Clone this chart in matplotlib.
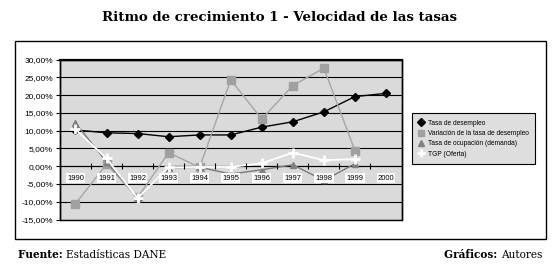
import numpy as np
import matplotlib
matplotlib.use('Agg')
import matplotlib.pyplot as plt
from matplotlib.lines import Line2D
from matplotlib.patches import Rectangle
from matplotlib.ticker import FuncFormatter

years = ['1990', '1991', '1992', '1993', '1994', '1995', '1996', '1997', '1998', '1999', '2000']
desempleo = [10.2, 9.4, 9.2, 8.3, 8.8, 8.8, 11.0, 12.5, 15.3, 19.6, 20.5]
variacion = [-10.6, 0.6, -8.8, 3.8, -0.3, 24.3, 13.3, 22.7, 27.6, 4.4, np.nan]
ocupacion = [12.2, 1.2, -8.9, -0.4, -0.3, -2.2, -1.0, 0.4, -4.0, 0.7, np.nan]
tgp = [10.4, 2.2, -9.0, -0.3, -0.2, -0.2, 0.8, 3.8, 1.7, 2.0, np.nan]
labels = ['Tasa de desempleo', 'Variación de la tasa de desempleo',
          'Tasa de ocupación (demanda)', 'TGP (Oferta)']

fig = plt.figure(figsize=(5.6, 2.71), dpi=100)
ax = fig.add_axes([0.107, 0.19, 0.610, 0.590])
ax.set_facecolor('#dadada')

x = np.arange(len(years))
styles = [
    dict(color='black', marker='D', markersize=4.5, lw=1.0, mfc='black', mec='black'),
    dict(color='#a6a6a6', marker='s', markersize=6, lw=1.0, mfc='#a0a0a0', mec='#a0a0a0'),
    dict(color='#7a7a7a', marker='^', markersize=5, lw=1.0, mfc='#808080', mec='#808080'),
    dict(color='white', marker='+', markersize=7, lw=1.3, mew=2.0, mec='white'),
]
for vals, st in zip([desempleo, variacion, ocupacion, tgp], styles):
    ax.plot(x, vals, zorder=3, **st)

ax.set_xlim(-0.5, len(years) - 0.5)
ax.set_ylim(-15, 30)
ax.set_yticks(np.arange(-15, 31, 5))
ax.yaxis.set_major_formatter(FuncFormatter(lambda v, p: ('%.2f%%' % v).replace('.', ',')))
ax.yaxis.grid(True, color='black', lw=0.8)
ax.yaxis.set_zorder(1)
ax.tick_params(axis='y', labelsize=6, length=3, width=0.8, pad=2)
for t in ax.get_yticklabels():
    t.set_family('Liberation Sans')

# category axis sits on the 0% line
ax.spines['bottom'].set_position(('data', 0))
ax.spines['bottom'].set_linewidth(0.8)
ax.xaxis.set_zorder(5)
ax.set_xticks(x)
ax.set_xticklabels(years, family='Liberation Sans', fontsize=5.5)
ax.set_xticks(x[:-1] + 0.5, minor=True)
ax.tick_params(axis='x', which='major', length=0, pad=6)
ax.tick_params(axis='x', which='minor', direction='inout', length=5, width=0.8)
for t in ax.get_xticklabels():
    t.set_bbox(dict(facecolor='white', edgecolor='none', pad=0.8))
for s in ['top', 'left', 'right']:
    ax.spines[s].set_linewidth(1.0)
ax.spines['top'].set_linewidth(1.6)
ax.add_patch(Rectangle((0, 0), 1, 1, transform=ax.transAxes, fill=False,
                       ec='black', lw=1.0, clip_on=False, zorder=6))

handles = [Line2D([], [], ls='none', marker=st['marker'], markersize=st['markersize'] * 0.8,
                  mfc=st.get('mfc', 'white'), mec=st['mec'], mew=st.get('mew', 1.0))
           for st in styles]
leg = fig.legend(handles, labels, loc='upper left', bbox_to_anchor=(0.735, 0.583),
                 prop=dict(family='Liberation Sans', size=4.8), frameon=True,
                 fancybox=False, edgecolor='black', facecolor='#dedede', framealpha=1,
                 handlelength=0.8, handletextpad=0.6, labelspacing=0.5, borderpad=1.0,
                 borderaxespad=0)
leg.get_frame().set_linewidth(0.8)

fig.patches.append(Rectangle((0.027, 0.118), 0.948, 0.731, transform=fig.transFigure,
                             fill=False, ec='black', lw=1.0))

fig.text(0.5, 0.937, 'Ritmo de crecimiento 1 - Velocidad de las tasas', ha='center', va='center',
         family='DejaVu Serif', weight='bold', fontsize=9.6)
f1 = fig.text(0.032, 0.06, 'Fuente: ', ha='left', va='center', family='DejaVu Serif',
              weight='bold', fontsize=7.6)
plt.annotate('Estadísticas DANE', xy=(1, 0.5), xycoords=f1, ha='left', va='center',
             family='DejaVu Serif', fontsize=7.6, annotation_clip=False)
f2 = fig.text(0.968, 0.06, 'Autores', ha='right', va='center', family='DejaVu Serif', fontsize=7.6)
plt.annotate('Gráficos: ', xy=(0, 0.5), xycoords=f2, ha='right', va='center',
             family='DejaVu Serif', weight='bold', fontsize=7.6, annotation_clip=False)

fig.savefig('out.png', dpi=100, facecolor='white')
